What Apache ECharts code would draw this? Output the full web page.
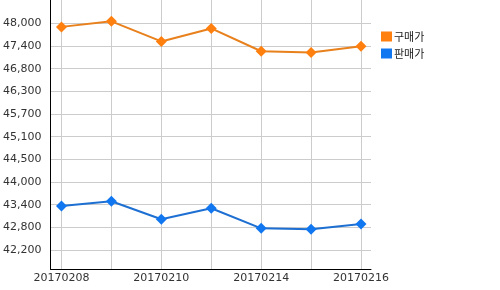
<!DOCTYPE html>
<html>
<head>
<meta charset="utf-8">
<script src="https://cdn.jsdelivr.net/npm/echarts@6/dist/echarts.min.js"></script>
<style>html,body{margin:0;padding:0;background:#fff;}#c{width:500px;height:290px;}</style>
</head>
<body>
<div id="c"></div>
<script>
const categories = ['20170208', '20170209', '20170210', '20170213', '20170214', '20170215', '20170216'];
const buyPrice = [47900, 48040, 47530, 47860, 47280, 47250, 47410];
const sellPrice = [43350, 43470, 43010, 43290, 42780, 42760, 42890];
const seriesNames = ['구매가', '판매가'];
const yTickValues = [42230, 42806, 43382, 43958, 44534, 45110, 45686, 46262, 46838, 47414, 47990];
const yTickLabels = ['42,200', '42,800', '43,400', '44,000', '44,500', '45,100', '45,700', '46,300', '46,800', '47,400', '48,000'];
const xLabelIdx = [0, 2, 4, 6];

const chart = echarts.init(document.getElementById('c'), null, {renderer: 'canvas'});
const font = 'DejaVu Sans';
function pts(arr) { return arr.map((v, i) => [i, v]); }
chart.setOption({
  animation: false,
  backgroundColor: '#fff',
  grid: {left: 50, right: 129, top: 0, bottom: 21, containLabel: false},
  legend: {
    orient: 'vertical', left: 381, top: 31, padding: 0, itemWidth: 11, itemHeight: 10, itemGap: 6,
    icon: 'rect',
    textStyle: {fontFamily: 'Noto Sans CJK KR', fontSize: 11, color: '#222', padding: [0, 0, 0, -3]},
    data: seriesNames
  },
  xAxis: {
    type: 'value', min: -0.22, max: 6.2,
    axisLine: {show: true, onZero: false, lineStyle: {color: '#000', width: 1}},
    axisTick: {show: false, customValues: categories.map((c, i) => i)},
    axisLabel: {customValues: xLabelIdx, formatter: v => categories[Math.round(v)], fontFamily: font, fontSize: 11, color: '#333', margin: 4},
    splitLine: {show: true, lineStyle: {color: '#cccccc', width: 1}}
  },
  yAxis: {
    type: 'value', min: 41747, max: 48583,
    axisLine: {show: true, onZero: false, lineStyle: {color: '#000', width: 1}},
    axisTick: {show: false, customValues: yTickValues},
    axisLabel: {
      customValues: yTickValues,
      formatter: v => {
        let best = 0;
        yTickValues.forEach((t, i) => { if (Math.abs(t - v) < Math.abs(yTickValues[best] - v)) best = i; });
        return yTickLabels[best];
      },
      fontFamily: font, fontSize: 11, color: '#333', margin: 9
    },
    splitLine: {show: true, lineStyle: {color: '#cccccc', width: 1}}
  },
  series: [
    {
      name: seriesNames[0], type: 'line', data: pts(buyPrice),
      symbol: 'diamond', symbolSize: 11,
      lineStyle: {color: '#e8801c', width: 2},
      itemStyle: {color: '#ff7f0f'}
    },
    {
      name: seriesNames[1], type: 'line', data: pts(sellPrice),
      symbol: 'diamond', symbolSize: 11,
      lineStyle: {color: '#1d6fd2', width: 2},
      itemStyle: {color: '#1177f0'}
    }
  ]
});
</script>
</body>
</html>
